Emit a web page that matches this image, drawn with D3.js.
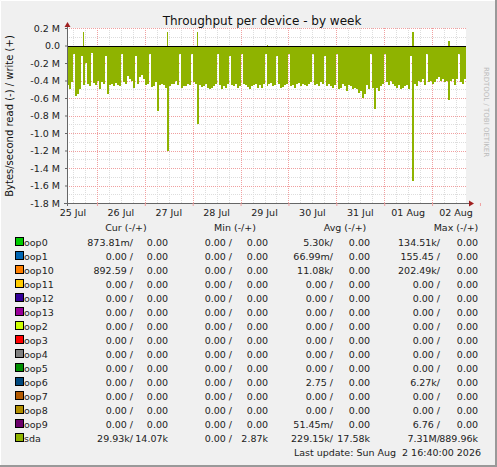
<!DOCTYPE html>
<html><head><meta charset="utf-8">
<script src="https://cdn.jsdelivr.net/npm/d3@7"></script>
<style>body{margin:0;background:#f0f0f0}svg{display:block;font-family:"DejaVu Sans",sans-serif}</style>
</head><body>
<script>
// sda read rate per hour, in units of 0.01 MB/s (drawn as negative)
const sdaRead = [
  45,50,42,10,58,55,50,12,45,20,44,46,8,43,45,40,50,42,44,12,55,45,44,46,
  43,45,46,10,42,44,35,38,40,48,12,44,36,34,38,45,44,10,47,46,42,75,45,44,
  45,48,120,46,44,44,40,45,10,48,46,46,44,45,10,42,44,90,45,47,46,44,48,50,
  49,46,44,10,45,50,46,48,44,12,45,46,44,48,46,10,44,45,47,50,46,45,44,48,
  45,48,44,10,46,44,43,46,45,12,44,48,47,45,44,10,46,45,48,44,43,46,44,45,
  46,44,42,10,45,44,46,42,44,12,46,44,46,48,45,10,50,48,44,46,52,45,46,50,
  48,50,54,52,60,55,45,50,10,48,73,48,52,46,44,10,42,45,40,44,46,48,45,50,
  48,46,45,50,12,155,44,46,40,42,38,45,10,42,40,44,42,38,36,40,38,42,40,62,
  40,38,45,38,10,42,44,38
];
// sda write spikes: hour index and MB/s
const sdaWriteHour = [8, 50, 65, 100, 173, 191];
const sdaWriteVal = [0.15, 0.16, 0.15, 0.01, 0.15, 0.05];

const yTicks = [0.2, 0, -0.2, -0.4, -0.6, -0.8, -1.0, -1.2, -1.4, -1.6, -1.8];
const dayLabels = ["25 Jul","26 Jul","27 Jul","28 Jul","29 Jul","30 Jul","31 Jul","01 Aug","02 Aug"];

const names = ["oop0","oop1","oop10","oop11","oop12","oop13","oop2","oop3","oop4","oop5","oop6","oop7","oop8","oop9","sda"];
const colors = ["#00cc00","#0066b3","#ff8000","#ffcc00","#330099","#990099","#ccff00","#ff0000","#808080","#008f00","#00487d","#b35a00","#b38f00","#6b006b","#8fb300"];
const curR = ["873.81m/","0.00 /","892.59 /","0.00 /","0.00 /","0.00 /","0.00 /","0.00 /","0.00 /","0.00 /","0.00 /","0.00 /","0.00 /","0.00 /","29.93k/"];
const curW = ["0.00","0.00","0.00","0.00","0.00","0.00","0.00","0.00","0.00","0.00","0.00","0.00","0.00","0.00","14.07k"];
const minR = ["0.00 /","0.00 /","0.00 /","0.00 /","0.00 /","0.00 /","0.00 /","0.00 /","0.00 /","0.00 /","0.00 /","0.00 /","0.00 /","0.00 /","0.00 /"];
const minW = ["0.00","0.00","0.00","0.00","0.00","0.00","0.00","0.00","0.00","0.00","0.00","0.00","0.00","0.00","2.87k"];
const avgR = ["5.30k/","66.99m/","11.08k/","0.00 /","0.00 /","0.00 /","0.00 /","0.00 /","0.00 /","0.00 /","2.75 /","0.00 /","0.00 /","51.45m/","229.15k/"];
const avgW = ["0.00","0.00","0.00","0.00","0.00","0.00","0.00","0.00","0.00","0.00","0.00","0.00","0.00","0.00","17.58k"];
const maxR = ["134.51k/","155.45 /","202.49k/","0.00 /","0.00 /","0.00 /","0.00 /","0.00 /","0.00 /","0.00 /","6.27k/","0.00 /","0.00 /","6.76 /","7.31M/"];
const maxW = ["0.00","0.00","0.00","0.00","0.00","0.00","0.00","0.00","0.00","0.00","0.00","0.00","0.00","0.00","889.96k"];

const W = 497, H = 467;
const svg = d3.select("body").append("svg").attr("width", W).attr("height", H);
svg.append("rect").attr("width", W).attr("height", H).attr("fill", "#f0f0f0");
svg.append("path").attr("d", `M0.5,${H-0.5}V0.5H${W-0.5}`).attr("stroke", "#fff").attr("fill", "none");
svg.append("path").attr("d", `M${W-1},0V${H-1}H0`).attr("stroke", "#999").attr("stroke-width", 2).attr("fill", "none");

const pL = 67, pR = 466, pT = 28, pB = 203;
const x = d3.scaleLinear().domain([0, 200]).range([pL, pR]);
const y = d3.scaleLinear().domain([-1.8, 0.2]).range([pB, pT]);

svg.append("rect").attr("x", pL).attr("y", pT).attr("width", pR - pL).attr("height", pB - pT).attr("fill", "#fff");

// grid: minor
const g = svg.append("g").attr("shape-rendering", "crispEdges");
for (let h = 3; h < 200; h += 6)
  g.append("line").attr("x1", x(h) + 0.5).attr("x2", x(h) + 0.5).attr("y1", pT).attr("y2", pB).attr("stroke", "#ddd").attr("stroke-dasharray", "1,1");
d3.range(-18, 3).forEach(k => {
  g.append("line").attr("x1", pL).attr("x2", pR).attr("y1", Math.round(y(k / 10)) + 0.5).attr("y2", Math.round(y(k / 10)) + 0.5)
    .attr("stroke", k % 2 === 0 ? "#f0a0a0" : "#ddd").attr("stroke-dasharray", "1,1");
});
for (let h = 15; h < 200; h += 24)
  g.append("line").attr("x1", x(h) + 0.5).attr("x2", x(h) + 0.5).attr("y1", pT).attr("y2", pB).attr("stroke", "#f0a0a0").attr("stroke-dasharray", "1,1");

// sda bars
g.selectAll(".rd").data(sdaRead).enter().append("rect")
  .attr("x", (d, i) => x(i)).attr("width", x(1) - x(0))
  .attr("y", y(0)).attr("height", d => y(-d / 100) - y(0)).attr("fill", "#8fb300");
sdaWriteHour.forEach((h, i) => {
  g.append("rect").attr("x", x(h)).attr("width", 1.5).attr("y", y(sdaWriteVal[i])).attr("height", y(0) - y(sdaWriteVal[i])).attr("fill", "#8fb300");
});
// zero line
g.append("line").attr("x1", pL).attr("x2", pR).attr("y1", y(0) + 0.5).attr("y2", y(0) + 0.5).attr("stroke", "#000");

// axes
svg.append("line").attr("x1", pL + 0.5).attr("x2", pL + 0.5).attr("y1", pT - 4).attr("y2", pB + 3).attr("stroke", "#666");
svg.append("line").attr("x1", pL - 3).attr("x2", pR + 4).attr("y1", pB + 0.5).attr("y2", pB + 0.5).attr("stroke", "#666");
svg.append("path").attr("d", `M${pL - 2.5},${pT - 1}L${pL + 0.5},${pT - 6}L${pL + 3.5},${pT - 1}Z`).attr("fill", "#a02020");
svg.append("path").attr("d", `M${pR + 3},${pB - 2.5}L${pR + 8},${pB + 0.5}L${pR + 3},${pB + 3.5}Z`).attr("fill", "#a02020");

yTicks.forEach(v => {
  svg.append("text").attr("x", 60).attr("y", y(v) + 3.5).attr("text-anchor", "end").attr("font-size", 9.5).attr("fill", "#222")
    .text(v === 0 ? "0.0" : v.toFixed(1) + " M");
  svg.append("line").attr("x1", pL - 2).attr("x2", pL).attr("y1", y(v) + 0.5).attr("y2", y(v) + 0.5).attr("stroke", "#666");
});
dayLabels.forEach((t, i) => {
  svg.append("text").attr("x", x(3 + 24 * i)).attr("y", 216).attr("text-anchor", "middle").attr("font-size", 9.5).attr("fill", "#222").text(t);
  svg.append("line").attr("x1", x(15 + 24 * i) + 0.5).attr("x2", x(15 + 24 * i) + 0.5).attr("y1", pB).attr("y2", pB + 3).attr("stroke", "#f0a0a0");
});

svg.append("text").attr("x", 262).attr("y", 25).attr("text-anchor", "middle").attr("font-size", 12).attr("fill", "#111").text("Throughput per device - by week");
svg.append("text").attr("transform", "translate(13,116) rotate(-90)").attr("text-anchor", "middle").attr("font-size", 10).attr("fill", "#111").text("Bytes/second read (-) / write (+)");
svg.append("text").attr("transform", "translate(484,112) rotate(90)").attr("text-anchor", "middle").attr("font-size", 7).attr("fill", "#bbb").text("RRDTOOL / TOBI OETIKER");

// legend
const lg = svg.append("g").attr("font-size", 9.5).attr("fill", "#222");
[["Cur (-/+)", 126], ["Min (-/+)", 235], ["Avg (-/+)", 345], ["Max (-/+)", 456]].forEach(([t, cx]) =>
  lg.append("text").attr("x", cx).attr("y", 231).attr("text-anchor", "middle").text(t));
const cols = [[curR, 133], [curW, 168], [minR, 232], [minW, 268], [avgR, 333], [avgW, 370], [maxR, 440], [maxW, 478]];
names.forEach((n, i) => {
  const yy = 246 + i * 14;
  lg.append("rect").attr("x", 15.5).attr("y", yy - 8.5).attr("width", 8).attr("height", 8).attr("fill", colors[i]).attr("stroke", "#000");
  lg.append("text").attr("x", 24).attr("y", yy).text(n);
  cols.forEach(([arr, cx]) => lg.append("text").attr("x", cx).attr("y", yy).attr("text-anchor", "end").text(arr[i]));
});
lg.append("text").attr("x", 481).attr("y", 456).attr("text-anchor", "end").attr("xml:space", "preserve").text("Last update: Sun Aug  2 16:40:00 2026");
</script>
</body></html>
